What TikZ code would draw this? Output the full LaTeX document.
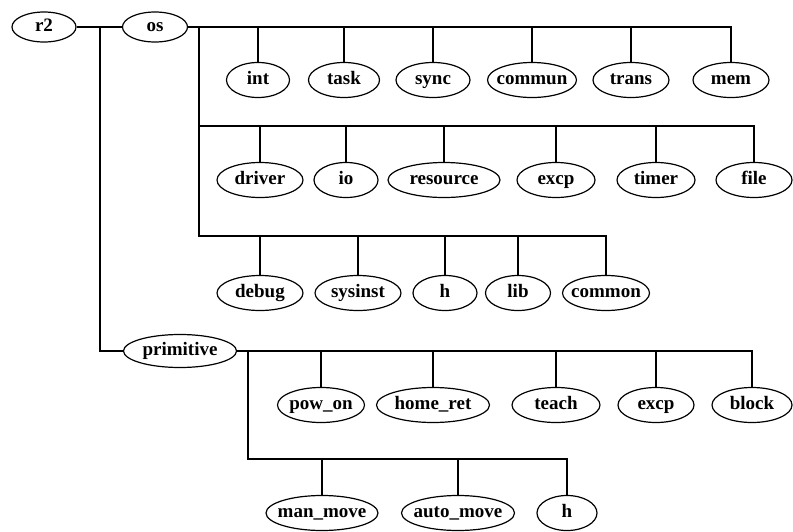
\documentclass[tikz,border=0pt]{standalone}
\usepackage{fontspec}
\setmainfont{Liberation Serif}
\usepackage{tikz}
\usetikzlibrary{shapes.geometric,positioning,calc}

\tikzset{
    mod/.style={draw, line width=1.2pt, ellipse, minimum height=35pt, inner xsep=-12pt, inner ysep=0pt,
        text height=13pt, text depth=4pt, font=\fontsize{19}{21}\selectfont\bfseries},
    link/.style={line width=1.1pt}
}

\begin{document}
\begin{tikzpicture}[x=1pt, y=-1pt]
    \useasboundingbox (0,0) rectangle (793,531);

    % root and first level
    \node[mod, minimum width=64pt, minimum height=30pt] (r2) at (44,27) {r2};
    \node[mod, minimum width=65pt, minimum height=30pt] (os) at (155,27) {os};
    \node[mod, minimum width=113pt, minimum height=33pt] (primitive) at (180,351) {primitive};

    % os children
    \node[mod, minimum width=63pt] (int) at (258,80) {int};
    \node[mod, minimum width=71pt] (task) at (344,80) {task};
    \node[mod, minimum width=74pt] (sync) at (433,80) {sync};
    \node[mod, minimum width=89pt] (commun) at (532,80) {commun};
    \node[mod, minimum width=76pt] (trans) at (631,80) {trans};
    \node[mod, minimum width=76pt] (mem) at (731,80) {mem};

    \node[mod, minimum width=86pt] (driver) at (260,180) {driver};
    \node[mod, minimum width=64pt] (io) at (346,180) {io};
    \node[mod, minimum width=112pt] (resource) at (444,180) {resource};
    \node[mod, minimum width=78pt] (excp) at (556,180) {excp};
    \node[mod, minimum width=78pt] (timer) at (656,180) {timer};
    \node[mod, minimum width=76pt] (file) at (754,180) {file};

    \node[mod, minimum width=86pt] (debug) at (260,293) {debug};
    \node[mod, minimum width=86pt] (sysinst) at (358,293) {sysinst};
    \node[mod, minimum width=64pt] (h) at (445,293) {h};
    \node[mod, minimum width=65pt] (lib) at (518,293) {lib};
    \node[mod, minimum width=87pt] (common) at (606,293) {common};

    % primitive children
    \node[mod, minimum width=87pt] (powon) at (321,405) {pow\_on};
    \node[mod, minimum width=113pt] (homeret) at (433,405) {home\_ret};
    \node[mod, minimum width=88pt] (teach) at (556,405) {teach};
    \node[mod, minimum width=76pt] (excpb) at (656,405) {excp};
    \node[mod, minimum width=80pt] (block) at (752,405) {block};

    \node[mod, minimum width=112pt] (manmove) at (322,513) {man\_move};
    \node[mod, minimum width=113pt] (automove) at (458,513) {auto\_move};
    \node[mod, minimum width=60pt] (hb) at (567,513) {h};

    % junctions
    \coordinate (rj) at (100,27);
    \coordinate (oj) at (199,27);
    \coordinate (ob2) at (199,126);
    \coordinate (ob3) at (199,236);
    \coordinate (pj) at (248,351);
    \coordinate (pb2) at (248,459);

    \draw[link] (r2) -- (os);
    \draw[link] (rj) |- (primitive.west);

    \draw[link] (os.east) -| (mem.north);
    \foreach \n in {int,task,sync,commun,trans}
        \draw[link] (\n.north) -- (\n.north |- os.east);
    \draw[link] (oj) -- (ob3) -| (common.north);
    \draw[link] (ob2) -| (file.north);
    \foreach \n in {driver,io,resource,excp,timer}
        \draw[link] (\n.north) -- (\n.north |- ob2);
    \foreach \n in {debug,sysinst,h,lib}
        \draw[link] (\n.north) -- (\n.north |- ob3);

    \draw[link] (primitive.east) -| (block.north);
    \foreach \n in {powon,homeret,teach,excpb}
        \draw[link] (\n.north) -- (\n.north |- primitive.east);
    \draw[link] (pj) -- (pb2) -| (hb.north);
    \foreach \n in {manmove,automove}
        \draw[link] (\n.north) -- (\n.north |- pb2);
\end{tikzpicture}
\end{document}
